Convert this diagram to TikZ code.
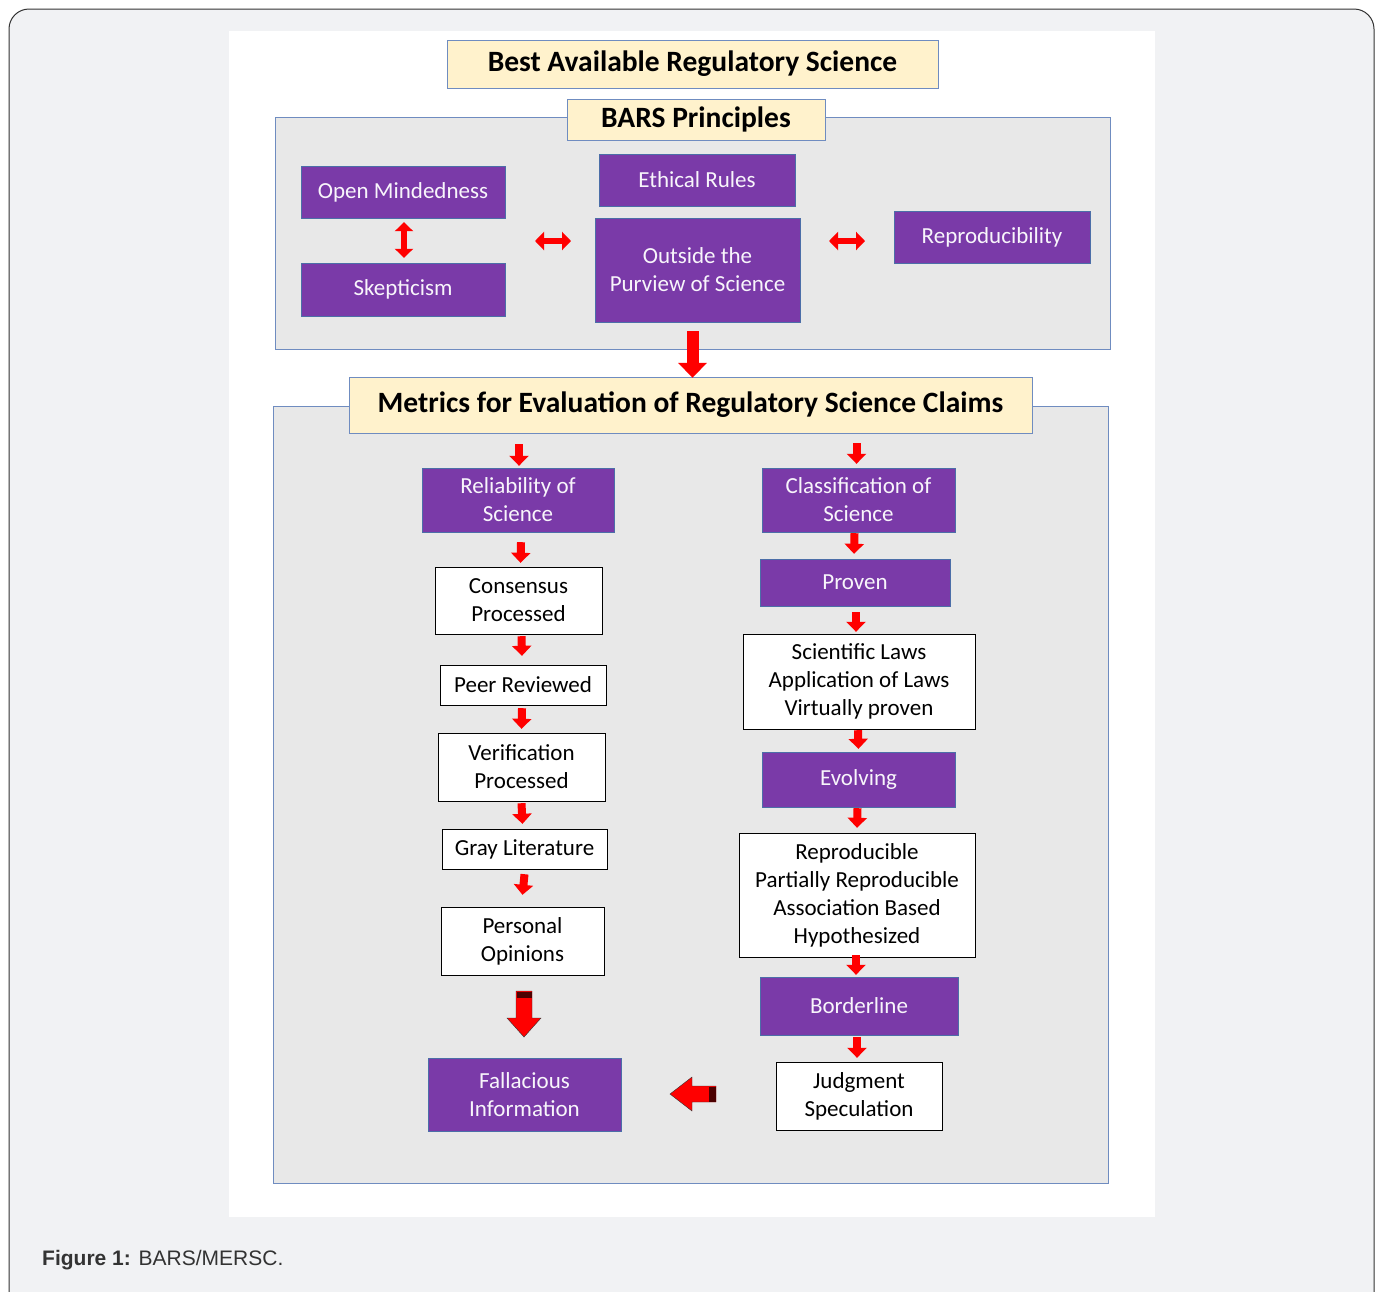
\documentclass[tikz,border=0pt]{standalone}
\usepackage{fontspec}
\setmainfont{Carlito}
\newfontfamily\capfont{Liberation Sans}
\usepackage{tikz}
\usetikzlibrary{arrows.meta}
\usetikzlibrary{calc}
\definecolor{bggray}{HTML}{F1F2F4}
\definecolor{panel}{HTML}{E8E8E8}
\definecolor{panelline}{HTML}{6F8CC0}
\definecolor{cream}{HTML}{FFF2CC}
\definecolor{purp}{HTML}{7A3AA8}
\definecolor{purpline}{HTML}{4C6EA8}
\tikzstyle{box}=[draw, inner sep=0pt, align=center]
\tikzstyle{tbox}=[box, draw=panelline, fill=cream, font=\fontsize{29.5}{32}\selectfont\bfseries]
\tikzstyle{pbox}=[box, draw=purpline, fill=purp, text=white!95!purp, font=\fontsize{23}{28}\selectfont]
\tikzstyle{wbox}=[box, draw=black, fill=white, font=\fontsize{23}{28}\selectfont]
\tikzstyle{darr}=[draw=red, line width=8pt, -{Triangle[width=19pt,length=10pt]}]
\tikzstyle{dblarr}=[draw=red, line width=6pt, {Triangle[width=18pt,length=9pt]}-{Triangle[width=18pt,length=9pt]}]

\begin{document}
\begin{tikzpicture}[x=1pt, y=-1pt]
    \useasboundingbox (0,0) rectangle (1380,1291);
    % frame and panels
    \draw[fill=bggray, draw=black!80, line width=1pt, rounded corners=20pt] (9,1320) -- (9,9) -- (1374,9) -- (1374,1320);
    \fill[white] (229,31) rectangle (1155,1217);
    \draw[fill=panel, draw=panelline] (275,117) rectangle (1110,349);
    \draw[fill=panel, draw=panelline] (273,406) rectangle (1108,1183);
    \node[anchor=base west, inner sep=0pt, font=\capfont\fontsize{21}{24}\selectfont, text=black!80] (cap) at (42,1265) {\textbf{Figure 1:} BARS/MERSC.};

    % titles
    \node[tbox, minimum width=491pt, minimum height=48pt] (bars) at (692.5,64) {Best Available Regulatory Science};
    \node[tbox, minimum width=258pt, minimum height=41pt] (princ) at (696,119.5) {BARS Principles};
    \node[tbox, minimum width=683pt, minimum height=56pt] (metrics) at (690.5,405) {Metrics for Evaluation of Regulatory Science Claims};

    % principles
    \node[pbox, minimum width=204pt, minimum height=52pt] (open) at (403,192) {Open Mindedness};
    \node[pbox, minimum width=204pt, minimum height=53pt] (skep) at (403,289.5) {Skepticism};
    \node[pbox, minimum width=196pt, minimum height=52pt] (ethic) at (697,180) {Ethical Rules};
    \node[pbox, minimum width=205pt, minimum height=104pt] (outside) at (697.5,270) {Outside the\\Purview of Science};
    \node[pbox, minimum width=196pt, minimum height=52pt] (repro) at (992,237) {Reproducibility};
    \draw[dblarr] ($(open.south)+(1,4)$) -- ($(skep.north)+(1,-5)$);
    \draw[dblarr] (535,241) -- (571,241);
    \draw[dblarr] (829,241) -- (865,241);
    \draw[draw=red, line width=12pt, -{Triangle[width=28pt,length=15pt]}] ($(outside.south)+(-5,9)$) -- ($(metrics.north)+(2,1)$);

    % left column
    \node[pbox, minimum width=192pt, minimum height=64pt] (rel) at (518,500) {Reliability of\\Science};
    \node[wbox, minimum width=167pt, minimum height=67pt] (cons) at (518.5,600.5) {Consensus\\Processed};
    \node[wbox, minimum width=166pt, minimum height=40pt] (peer) at (523,685) {Peer Reviewed};
    \node[wbox, minimum width=167pt, minimum height=68pt] (verif) at (521.5,767) {Verification\\Processed};
    \node[wbox, minimum width=165pt, minimum height=40pt] (gray) at (524.5,849) {Gray Literature};
    \node[wbox, minimum width=163pt, minimum height=68pt] (pers) at (522.5,941) {Personal\\Opinions};
    \node[pbox, minimum width=193pt, minimum height=73pt] (fall) at (524.5,1094.5) {Fallacious\\Information};
    \draw[darr] ($(metrics.south -| rel.north)+(1,11)$) -- ($(rel.north)+(1,-2)$);
    \draw[darr] ($(rel.south)+(3,10)$) -- ($(cons.north)+(2,-4)$);
    \draw[darr] ($(cons.south)+(3,2)$) -- ($(peer.north)+(-1,-9)$);
    \draw[darr] ($(peer.south)+(-1,3)$) -- ($(verif.north)+(0,-4)$);
    \draw[darr] ($(verif.south)+(0,2)$) -- ($(gray.north)+(-2,-5)$);
    \draw[darr] ($(gray.south)+(0,5)$) -- ($(pers.north)+(0,-12)$);
    % big arrows
    \filldraw[fill=red, draw=black!80] (516,991) -- (532,991) -- (532,1018) -- (541,1018) -- (524,1037) -- (507,1018) -- (516,1018) -- cycle;
    \fill[black!70!red] (516.5,991.5) rectangle (531.5,998);
    \filldraw[fill=red, draw=black!80] (716,1086) -- (716,1102) -- (692,1102) -- (692,1111) -- (670,1094) -- (692,1077) -- (692,1086) -- cycle;
    \fill[black!70!red] (709,1086.5) rectangle (715.5,1101.5);

    % right column
    \node[pbox, minimum width=193pt, minimum height=64pt] (class) at (858.5,500) {Classification of\\Science};
    \node[pbox, minimum width=190pt, minimum height=47pt] (proven) at (855,582.5) {Proven};
    \node[wbox, minimum width=232pt, minimum height=95pt] (laws) at (859,681.5) {Scientific Laws\\Application of Laws\\Virtually proven};
    \node[pbox, minimum width=193pt, minimum height=55pt] (evol) at (858.5,779.5) {Evolving};
    \node[wbox, minimum width=236pt, minimum height=124pt] (reprod) at (857,895) {Reproducible\\Partially Reproducible\\Association Based\\Hypothesized};
    \node[pbox, minimum width=198pt, minimum height=58pt] (border) at (859,1006) {Borderline};
    \node[wbox, minimum width=166pt, minimum height=68pt] (judg) at (859,1096) {Judgment\\Speculation};
    \draw[darr] ($(metrics.south -| class.north)+(-2,10)$) -- ($(class.north)+(-2,-4)$);
    \draw[darr] ($(class.south)+(-4,1)$) -- ($(proven.north)+(-1,-5)$);
    \draw[darr] ($(proven.south)+(1,6)$) -- ($(laws.north)+(-3,-2)$);
    \draw[darr] ($(laws.south)+(-1,1)$) -- ($(evol.north)+(0,-3)$);
    \draw[darr] ($(evol.south)+(-1,1)$) -- ($(reprod.north)+(0,-5)$);
    \draw[darr] ($(reprod.south)+(-1,-2)$) -- ($(border.north)+(-3,-2)$);
    \draw[darr] ($(border.south)+(-2,2)$) -- ($(judg.north)+(-2,-4)$);
\end{tikzpicture}
\end{document}
